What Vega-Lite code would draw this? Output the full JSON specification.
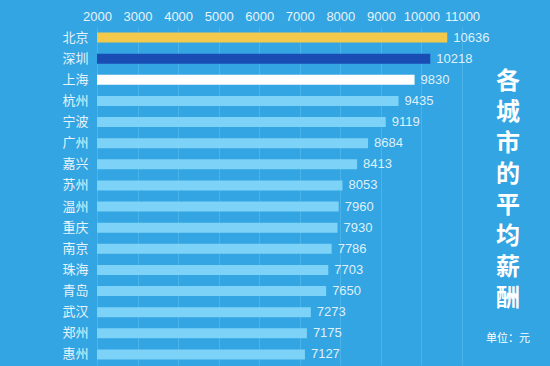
{
  "$schema": "https://vega.github.io/schema/vega-lite/v6.json",
  "width": 365,
  "height": 338,
  "autosize": "none",
  "padding": {"left": 97, "top": 27, "right": 88, "bottom": 1},
  "background": "#33a5e2",
  "config": {
    "view": {"stroke": null},
    "font": "Liberation Sans, Noto Sans CJK SC"
  },
  "title": {
    "text": ["各", "城", "市", "的", "平", "均", "薪", "酬"],
    "subtitle": "单位：元",
    "orient": "bottom",
    "anchor": "end",
    "frame": "group",
    "align": "center",
    "baseline": "top",
    "offset": 0,
    "dx": 46,
    "dy": -295,
    "font": "Noto Sans CJK SC",
    "fontSize": 24,
    "fontWeight": "bold",
    "lineHeight": 31,
    "color": "#ffffff",
    "subtitleFont": "Noto Sans CJK SC",
    "subtitleFontSize": 11,
    "subtitleColor": "#ffffff",
    "subtitlePadding": 22
  },
  "data": {
    "values": [
      {"city": "北京", "salary": 10636, "group": "bj"},
      {"city": "深圳", "salary": 10218, "group": "sz"},
      {"city": "上海", "salary": 9830, "group": "sh"},
      {"city": "杭州", "salary": 9435, "group": "other"},
      {"city": "宁波", "salary": 9119, "group": "other"},
      {"city": "广州", "salary": 8684, "group": "other"},
      {"city": "嘉兴", "salary": 8413, "group": "other"},
      {"city": "苏州", "salary": 8053, "group": "other"},
      {"city": "温州", "salary": 7960, "group": "other"},
      {"city": "重庆", "salary": 7930, "group": "other"},
      {"city": "南京", "salary": 7786, "group": "other"},
      {"city": "珠海", "salary": 7703, "group": "other"},
      {"city": "青岛", "salary": 7650, "group": "other"},
      {"city": "武汉", "salary": 7273, "group": "other"},
      {"city": "郑州", "salary": 7175, "group": "other"},
      {"city": "惠州", "salary": 7127, "group": "other"}
    ]
  },
  "encoding": {
    "y": {
      "field": "city",
      "type": "nominal",
      "sort": null,
      "axis": {
        "title": null,
        "domain": false,
        "ticks": false,
        "labelFontSize": 13,
        "labelColor": "#e6f3fb",
        "labelPadding": 9,
        "labelFont": "Noto Sans CJK SC"
      }
    },
    "x": {
      "field": "salary",
      "type": "quantitative",
      "scale": {"domain": [2000, 11000], "zero": false, "nice": false},
      "axis": {
        "orient": "top",
        "title": null,
        "values": [2000, 3000, 4000, 5000, 6000, 7000, 8000, 9000, 10000, 11000],
        "format": "d",
        "domain": false,
        "ticks": false,
        "grid": true,
        "gridColor": "#5cbcec",
        "gridOpacity": 0.6,
        "labelFontSize": 13,
        "labelColor": "#e6f3fb",
        "labelPadding": 4,
        "labelFlush": false
      }
    }
  },
  "layer": [
    {
      "mark": {"type": "bar", "size": 10},
      "encoding": {
        "x2": {"datum": 2000},
        "color": {
          "field": "group",
          "type": "nominal",
          "scale": {
            "domain": ["bj", "sz", "sh", "other"],
            "range": ["#f2c94a", "#1a4db3", "#ffffff", "#7dd3f7"]
          },
          "legend": null
        }
      }
    },
    {
      "mark": {"type": "text", "align": "left", "baseline": "middle", "dx": 6, "fontSize": 13, "color": "#dff0fa"},
      "encoding": {
        "text": {"field": "salary", "type": "quantitative", "format": "d"}
      }
    }
  ]
}
